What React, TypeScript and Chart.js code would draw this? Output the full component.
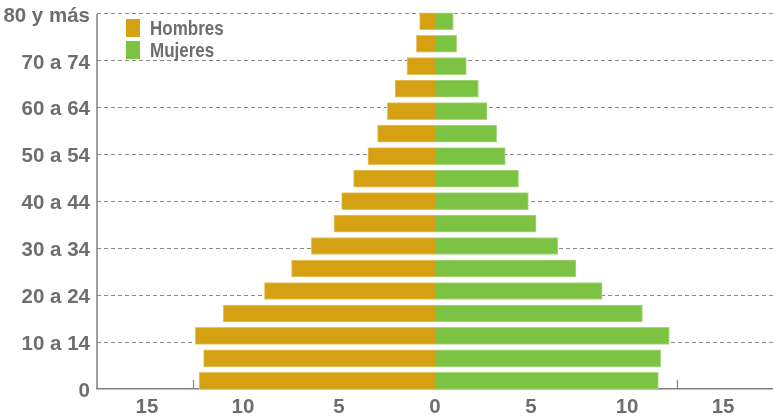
import React, { useEffect, useRef } from "react";
import { Chart, registerables } from "chart.js";

Chart.register(...registerables);

// Age groups, from youngest (bottom) to oldest (top)
const AGE_GROUPS = [
  "0 a 4", "5 a 9", "10 a 14", "15 a 19", "20 a 24", "25 a 29", "30 a 34", "35 a 39",
  "40 a 44", "45 a 49", "50 a 54", "55 a 59", "60 a 64", "65 a 69", "70 a 74", "75 a 79", "80 y más",
];
// Percent of population per group
const MEN = [12.28, 12.05, 12.48, 11.03, 8.88, 7.47, 6.44, 5.26, 4.86, 4.24, 3.49, 2.99, 2.48, 2.08, 1.46, 0.97, 0.8];
const WOMEN = [11.63, 11.75, 12.2, 10.8, 8.7, 7.34, 6.39, 5.26, 4.86, 4.35, 3.66, 3.21, 2.71, 2.26, 1.63, 1.13, 0.95];

const SERIES_LABELS = ["Hombres", "Mujeres"];
const SERIES_COLORS = ["#D5A012", "#7CC243"];
const SERIES_BORDERS = ["#E6C462", "#A9D883"];

// Age-axis tick labels (label scale 0..80)
const AGE_TICK_VALUES = [0, 10, 20, 30, 40, 50, 60, 70, 80];
const AGE_TICK_LABELS = ["0", "10 a 14", "20 a 24", "30 a 34", "40 a 44", "50 a 54", "60 a 64", "70 a 74", "80 y más"];

// Value-axis ticks
const X_TICK_VALUES = [-15, -10, -5, 0, 5, 10, 15];
const X_TICK_MARKS = [-12.6, 12.6];

const TEXT_COLOR = "#6E6E70";
const AXIS_COLOR = "#808080";
const GRID_COLOR = "#8A8A8A";

export default function App() {
  const canvasRef = useRef<HTMLCanvasElement | null>(null);

  useEffect(() => {
    document.body.style.margin = "0";
    const canvas = canvasRef.current;
    if (!canvas) return;

    const tickFont = { family: "'Liberation Sans', Arial, sans-serif", size: 20.5, weight: "bold" as const };

    const framePlugin = {
      id: "frame",
      afterDraw(chart: any) {
        const { ctx, chartArea, scales } = chart;
        const xs = scales.x;
        const yl = scales.yLab;
        ctx.save();
        ctx.strokeStyle = AXIS_COLOR;
        ctx.lineWidth = 1.5;
        ctx.beginPath();
        ctx.moveTo(chartArea.left, yl.getPixelForValue(AGE_TICK_VALUES[AGE_TICK_VALUES.length - 1]));
        ctx.lineTo(chartArea.left, chartArea.bottom);
        ctx.stroke();
        ctx.lineWidth = 1.2;
        for (const v of X_TICK_MARKS) {
          const px = Math.round(xs.getPixelForValue(v)) + 0.5;
          ctx.beginPath();
          ctx.moveTo(px, chartArea.bottom - 9);
          ctx.lineTo(px, chartArea.bottom);
          ctx.stroke();
        }
        ctx.restore();
      },
    };

    const chart = new Chart(canvas, {
      type: "bar",
      data: {
        datasets: [
          {
            label: SERIES_LABELS[0],
            data: AGE_GROUPS.map((_, i) => ({ x: -MEN[i], y: i })),
            backgroundColor: SERIES_COLORS[0],
            borderColor: SERIES_BORDERS[0],
            borderWidth: 1,
          },
          {
            label: SERIES_LABELS[1],
            data: AGE_GROUPS.map((_, i) => ({ x: WOMEN[i], y: i })),
            backgroundColor: SERIES_COLORS[1],
            borderColor: SERIES_BORDERS[1],
            borderWidth: 1,
          },
        ],
      },
      options: {
        indexAxis: "y",
        animation: false,
        responsive: false,
        barThickness: 17,
        layout: { padding: { top: 10, right: 0, bottom: 0, left: 0 } },
        plugins: { legend: { display: false }, tooltip: { enabled: false } },
        scales: {
          x: {
            type: "linear",
            min: -17.6,
            max: 17.6,
            stacked: true,
            position: "bottom",
            grid: { display: false, drawTicks: false },
            border: { display: true, color: AXIS_COLOR, width: 1.5 },
            afterBuildTicks: (s: any) => {
              s.ticks = X_TICK_VALUES.map((v) => ({ value: v }));
            },
            ticks: {
              autoSkip: false,
              maxRotation: 0,
              padding: 6,
              color: TEXT_COLOR,
              font: tickFont,
              callback: (v: any) => String(Math.abs(Number(v))),
            },
            afterFit: (s: any) => {
              s.height = 29;
              s.paddingLeft = 0;
              s.paddingRight = 0;
            },
          },
          y: {
            type: "linear",
            display: false,
            stacked: true,
            offset: false,
            min: -0.36,
            max: 16.5,
          },
          yLab: {
            type: "linear",
            position: "left",
            offset: false,
            min: 0,
            max: 80.85,
            afterBuildTicks: (s: any) => {
              s.ticks = AGE_TICK_VALUES.map((v) => ({ value: v }));
            },
            grid: {
              offset: false,
              drawTicks: false,
              lineWidth: 1,
              color: (c: any) => (c.tick && c.tick.value === 0 ? "rgba(0,0,0,0)" : GRID_COLOR),
            },
            border: { display: false, dash: [4, 3] },
            ticks: {
              autoSkip: false,
              padding: 7,
              labelOffset: 2,
              color: TEXT_COLOR,
              font: tickFont,
              callback: (v: any) => {
                const i = AGE_TICK_VALUES.indexOf(Number(v));
                return i >= 0 ? AGE_TICK_LABELS[i] : "";
              },
            },
            afterFit: (s: any) => {
              s.width = 97;
              s.paddingTop = 0;
              s.paddingBottom = 0;
            },
          },
        },
      } as any,
      plugins: [framePlugin],
    });

    return () => chart.destroy();
  }, []);

  return (
    <div style={{ position: "relative", width: 773, height: 418 }}>
      <canvas ref={canvasRef} width={773} height={418} style={{ display: "block" }} />
      <div style={{ position: "absolute", left: 126, top: 17 }}>
        {SERIES_LABELS.map((label, i) => (
          <div key={label} style={{ display: "flex", alignItems: "center", height: 22 }}>
            <span style={{ display: "inline-block", width: 14, height: 18, background: SERIES_COLORS[i] }} />
            <span
              style={{
                marginLeft: 10,
                fontFamily: "'Liberation Sans Narrow', 'Liberation Sans', Arial, sans-serif",
                fontWeight: "bold",
                fontSize: 21,
                color: TEXT_COLOR,
                lineHeight: "22px",
                display: "inline-block",
                transform: "scaleX(0.81)",
                transformOrigin: "left center",
                whiteSpace: "nowrap",
              }}
            >
              {label}
            </span>
          </div>
        ))}
      </div>
    </div>
  );
}
